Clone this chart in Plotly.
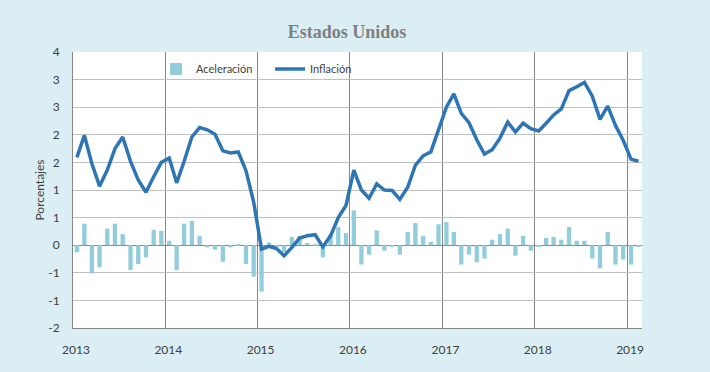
import pandas as pd
import plotly.graph_objects as go

# ---- data ----
months = pd.date_range("2013-01-01", periods=74, freq="MS").strftime("%Y-%m-%d").tolist()

inflacion = [
    1.59, 1.99, 1.48, 1.07, 1.36, 1.75, 1.96, 1.52, 1.18, 0.96, 1.24, 1.50,   # 2013
    1.58, 1.13, 1.52, 1.96, 2.13, 2.09, 2.01, 1.71, 1.67, 1.69, 1.35, 0.78,   # 2014
    -0.07, -0.02, -0.06, -0.19, -0.04, 0.13, 0.17, 0.19, -0.03, 0.17, 0.50, 0.72,  # 2015
    1.36, 1.00, 0.85, 1.11, 1.00, 0.99, 0.83, 1.05, 1.45, 1.62, 1.69, 2.08,   # 2016
    2.50, 2.74, 2.39, 2.22, 1.91, 1.65, 1.73, 1.94, 2.23, 2.05, 2.21, 2.11,   # 2017
    2.07, 2.21, 2.36, 2.47, 2.80, 2.87, 2.95, 2.70, 2.28, 2.52, 2.17, 1.90,   # 2018
    1.56, 1.52,                                                               # 2019
]

aceleracion = [
    -0.13, 0.39, -0.51, -0.40, 0.30, 0.39, 0.20, -0.45, -0.34, -0.22, 0.28, 0.26,
    0.08, -0.45, 0.39, 0.44, 0.17, -0.04, -0.08, -0.30, -0.04, 0.02, -0.34, -0.57,
    -0.84, 0.05, -0.03, -0.12, 0.15, 0.17, 0.04, 0.02, -0.22, 0.20, 0.33, 0.22,
    0.63, -0.35, -0.17, 0.27, -0.10, -0.02, -0.17, 0.24, 0.40, 0.17, 0.06, 0.38,
    0.42, 0.24, -0.35, -0.17, -0.31, -0.24, 0.10, 0.20, 0.30, -0.19, 0.17, -0.10,
    -0.02, 0.13, 0.15, 0.10, 0.33, 0.08, 0.08, -0.24, -0.42, 0.24, -0.35, -0.26,
    -0.35, -0.02,
]

year_ticks = ["2013-01-01", "2014-01-01", "2015-01-01", "2016-01-01",
              "2017-01-01", "2018-01-01", "2019-01-01"]
year_labels = ["2013", "2014", "2015", "2016", "2017", "2018", "2019"]

y_tickvals = [-1.5, -1.0, -0.5, 0.0, 0.5, 1.0, 1.5, 2.0, 2.5, 3.0, 3.5]
y_ticktext = ["-2", "-1", "-1", "0", "1", "1", "2", "2", "3", "3", "4"]

title_text = "Estados Unidos"
y_title = "Porcentajes"

# ---- figure ----
BG = "#DAEEF3"
FONT = "Lato"

fig = go.Figure()
fig.add_trace(go.Bar(
    x=months, y=aceleracion, name="Aceleración",
    marker=dict(color="#92CDDC", line=dict(width=0)),
    xperiod="M1", xperiodalignment="middle",
))
fig.add_trace(go.Scatter(
    x=months, y=inflacion, name="Inflación", mode="lines",
    line=dict(color="#2E75B6", width=3.5),
    xperiod="M1", xperiodalignment="middle",
))

fig.update_layout(
    width=710, height=372,
    paper_bgcolor=BG, plot_bgcolor="white",
    margin=dict(l=73, r=68, t=52, b=44),
    font=dict(family=FONT, size=12, color="#404040"),
    bargap=0.42,
    showlegend=True,
    legend=dict(
        orientation="h", x=0.146, y=0.938, xanchor="left", yanchor="middle",
        bgcolor="rgba(0,0,0,0)", font=dict(family=FONT, size=11, color="#404040"),
        traceorder="normal", itemwidth=30, entrywidth=69,
    ),
    title=dict(
        text="<b>" + title_text + "</b>", x=347 / 710, xanchor="center",
        y=1 - 32 / 372, yanchor="middle",
        font=dict(family="Liberation Serif", size=18, color="#7F7F7F"),
    ),
)

fig.update_xaxes(
    type="date",
    range=["2013-01-01", "2019-03-01"],
    tickvals=year_ticks, ticktext=year_labels,
    showgrid=True, gridcolor="#868686", gridwidth=1,
    showline=True, linecolor="#868686", linewidth=1,
    ticks="", ticklabelstandoff=11, ticklabelshift=3,
    tickfont=dict(family=FONT, size=12, color="#404040"),
)
fig.update_yaxes(
    range=[-1.5, 3.5],
    tickvals=y_tickvals, ticktext=y_ticktext,
    showgrid=True, gridcolor="#C0C0C0", gridwidth=1,
    zeroline=True, zerolinecolor="#868686", zerolinewidth=1,
    showline=True, linecolor="#868686", linewidth=1,
    ticks="", ticklabelstandoff=10,
    tickfont=dict(family=FONT, size=12, color="#404040"),
    title=dict(text=y_title, standoff=0, font=dict(family=FONT, size=12, color="#404040")),
)

fig.write_html(
    "out.html",
    config={"displayModeBar": False},
    post_script="document.body.style.margin='0';document.body.style.background='" + BG + "';",
)
